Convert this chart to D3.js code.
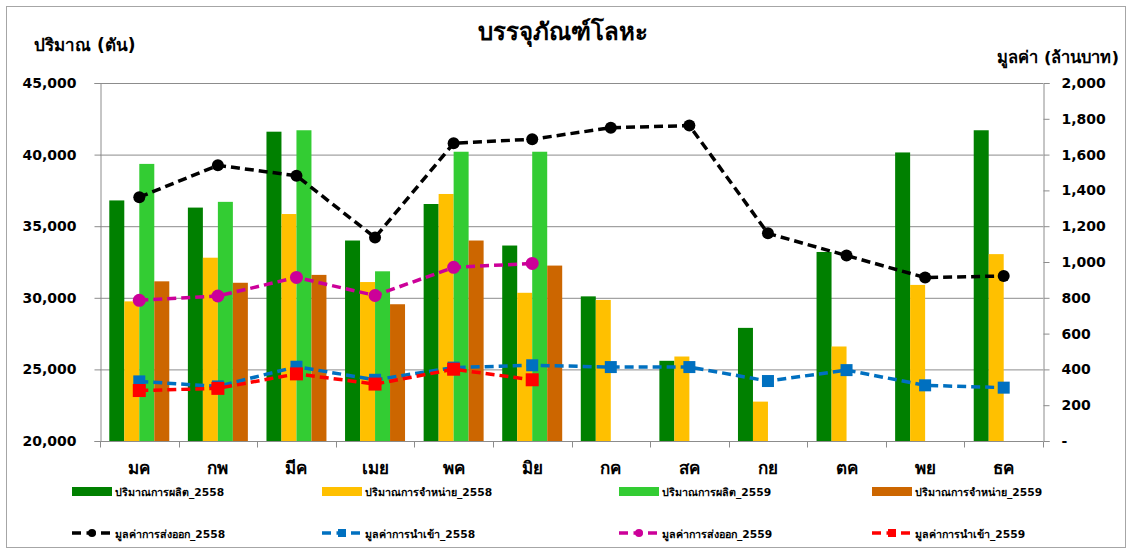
<!DOCTYPE html>
<html><head><meta charset="utf-8">
<script src="https://cdn.jsdelivr.net/npm/d3@7"></script>
<style>
body{margin:0;background:#fff;}
svg{display:block;}
text{font-family:Tahoma,"DejaVu Sans","Noto Sans",sans-serif;}
</style></head>
<body><svg id="c" width="1128" height="551"></svg>
<script>
const months = ["มค","กพ","มีค","เมย","พค","มิย","กค","สค","กย","ตค","พย","ธค"];
const prod2558 = [36800,36300,41600,34000,36550,33650,30100,25600,27900,33200,40150,41700];
const sales2558 = [29750,32800,35850,31100,37250,30350,29850,25900,22750,26600,30900,33050];
const prod2559 = [39350,36700,41700,31850,40200,40200,null,null,null,null,null,null];
const sales2559 = [31150,31050,31600,29550,34000,32250,null,null,null,null,null,null];
const export2558 = [1362,1540,1482,1137,1663,1686,1750,1762,1160,1036,913,922];
const import2558 = [333,305,415,342,410,423,413,413,335,396,311,298];
const export2559 = [786,810,914,813,970,992,null,null,null,null,null,null];
const import2559 = [282,294,375,318,401,342,null,null,null,null,null,null];
const leftTicks = [20000,25000,30000,35000,40000,45000];
const rightTicks = [0,200,400,600,800,1000,1200,1400,1600,1800,2000];

const barSeries = [
  {name:"ปริมาณการผลิต_2558", data:prod2558, color:"#008000"},
  {name:"ปริมาณการจำหน่าย_2558", data:sales2558, color:"#FFC000"},
  {name:"ปริมาณการผลิต_2559", data:prod2559, color:"#33CC33"},
  {name:"ปริมาณการจำหน่าย_2559", data:sales2559, color:"#CC6600"}
];
const lineSeries = [
  {name:"มูลค่าการส่งออก_2558", data:export2558, color:"#000000", marker:"circle", r:6},
  {name:"มูลค่าการนำเข้า_2558", data:import2558, color:"#0070C0", marker:"square", r:6},
  {name:"มูลค่าการส่งออก_2559", data:export2559, color:"#CC0099", marker:"circle", r:6.5},
  {name:"มูลค่าการนำเข้า_2559", data:import2559, color:"#FF0000", marker:"square", r:6.5}
];

const svg = d3.select("#c");
const L=100, R=1043, T=83, B=441;

svg.append("rect").attr("x",6.5).attr("y",6.5).attr("width",1119).attr("height",541)
  .attr("fill","#fff").attr("stroke","#a6a6a6").attr("stroke-width",1);

const x = d3.scaleBand().domain(months).range([L,R]).padding(0);
const xi = d3.scaleBand().domain(d3.range(4)).range([0,x.bandwidth()]).paddingInner(0).paddingOuter(0.62);
const yL = d3.scaleLinear().domain([20000,45000]).range([B,T]);
const yR = d3.scaleLinear().domain([0,2000]).range([B,T]);

// gridlines
svg.append("g").selectAll("line").data(leftTicks).join("line")
  .attr("x1",L).attr("x2",R).attr("y1",d=>yL(d)+0.5).attr("y2",d=>yL(d)+0.5)
  .attr("stroke","#8c8c8c").attr("stroke-width",1);

// left axis
const gl = svg.append("g").attr("transform",`translate(${L+0.5},0)`)
  .call(d3.axisLeft(yL).tickValues(leftTicks).tickFormat(d3.format(",")).tickSize(6).tickPadding(18));
gl.select(".domain").attr("stroke","#8c8c8c");
gl.selectAll(".tick line").attr("stroke","#8c8c8c");
gl.selectAll("text").attr("font-size",14).attr("font-weight","bold").attr("fill","#000")
  .attr("font-family","Tahoma,'DejaVu Sans',sans-serif");

// right axis
const gr = svg.append("g").attr("transform",`translate(${R+0.5},0)`)
  .call(d3.axisRight(yR).tickValues(rightTicks).tickFormat(d=>d===0?"-":d3.format(",")(d)).tickSize(6).tickPadding(12));
gr.select(".domain").attr("stroke","#8c8c8c");
gr.selectAll(".tick line").attr("stroke","#8c8c8c");
gr.selectAll("text").attr("font-size",14).attr("font-weight","bold").attr("fill","#000")
  .attr("font-family","Tahoma,'DejaVu Sans',sans-serif");

// x axis
const gx = svg.append("g").attr("transform",`translate(0,${B+0.5})`);
gx.append("line").attr("x1",L).attr("x2",R).attr("stroke","#8c8c8c");
gx.selectAll("line.t").data(d3.range(months.length+1)).join("line").attr("class","t")
  .attr("x1",i=>Math.round(L+i*x.step())+0.5).attr("x2",i=>Math.round(L+i*x.step())+0.5)
  .attr("y1",0).attr("y2",6).attr("stroke","#8c8c8c");
gx.selectAll("text").data(months).join("text")
  .attr("x",d=>x(d)+x.bandwidth()/2).attr("y",32).attr("text-anchor","middle")
  .attr("font-size",17).attr("font-weight","bold").text(d=>d);

// bars
barSeries.forEach((s,si)=>{
  svg.append("g").selectAll("rect").data(months.map((m,i)=>({m,v:s.data[i]})).filter(d=>d.v!=null)).join("rect")
    .attr("x",d=>x(d.m)+xi(si)).attr("width",xi.bandwidth())
    .attr("y",d=>yL(d.v)).attr("height",d=>B-yL(d.v)).attr("fill",s.color);
});

// lines
function drawMarker(g, type, cx, cy, r, color){
  if(type==="circle") g.append("circle").attr("cx",cx).attr("cy",cy).attr("r",r).attr("fill",color);
  else g.append("rect").attr("x",cx-r).attr("y",cy-r).attr("width",2*r).attr("height",2*r).attr("fill",color);
}
lineSeries.forEach(s=>{
  const pts = months.map((m,i)=>({m,v:s.data[i]})).filter(d=>d.v!=null);
  const line = d3.line().x(d=>x(d.m)+x.bandwidth()/2).y(d=>yR(d.v));
  const g = svg.append("g");
  g.append("path").attr("d",line(pts)).attr("fill","none").attr("stroke",s.color)
    .attr("stroke-width",3.5).attr("stroke-dasharray","9,5");
  pts.forEach(d=>drawMarker(g,s.marker,x(d.m)+x.bandwidth()/2,yR(d.v),s.r,s.color));
});

// titles
svg.append("text").attr("x",563).attr("y",40).attr("text-anchor","middle")
  .attr("font-size",24).attr("font-weight","bold").text("บรรจุภัณฑ์โลหะ");
svg.append("text").attr("x",34).attr("y",51)
  .attr("font-size",17).attr("font-weight","bold").text("ปริมาณ (ตัน)");
svg.append("text").attr("x",1119).attr("y",63).attr("text-anchor","end")
  .attr("font-size",16.5).attr("font-weight","bold").text("มูลค่า (ล้านบาท)");

// legend
const legX = [72,322,619,872];
const all = [...barSeries.map(s=>({...s,type:"bar"})), ...lineSeries.map(s=>({...s,type:"line"}))];
all.forEach((s,i)=>{
  const col = i%4, row = Math.floor(i/4);
  const lx = legX[col], ly = row===0?491:533;
  const g = svg.append("g");
  if(s.type==="bar"){
    g.append("rect").attr("x",lx).attr("y",ly-4).attr("width",40).attr("height",9).attr("fill",s.color);
  } else {
    g.append("line").attr("x1",lx).attr("x2",lx+40).attr("y1",ly).attr("y2",ly)
      .attr("stroke",s.color).attr("stroke-width",3.5).attr("stroke-dasharray","9,5.5");
    drawMarker(g,s.marker,lx+20,ly,4,s.color);
  }
  g.append("text").attr("x",lx+43).attr("y",ly+4.5).attr("font-size",10.7).attr("font-weight","bold").text(s.name);
});
</script></body></html>
